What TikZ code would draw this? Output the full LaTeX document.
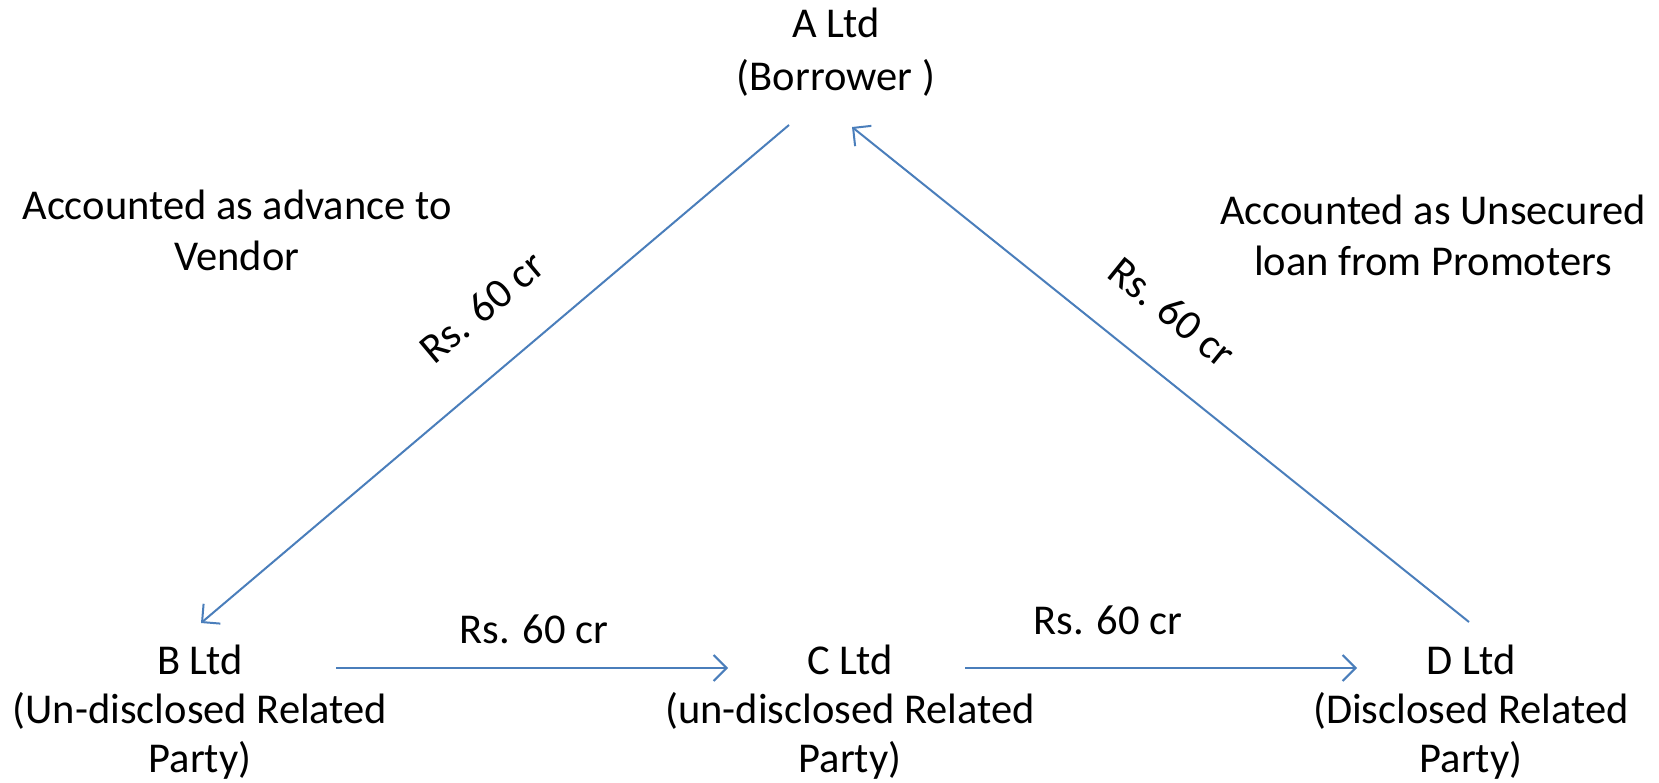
\documentclass[tikz,border=0pt]{standalone}
\usepackage{fontspec}
\setmainfont{Carlito}
\usepackage{tikz}
\usetikzlibrary{arrows.meta,positioning,calc}
\definecolor{lineblue}{HTML}{4A7EBB}

\begin{document}
\begin{tikzpicture}[
  x=1pt,y=-1pt,
  party/.style={align=center,inner sep=0pt,anchor=base,font=\fontsize{42.5}{49}\selectfont},
  note/.style={align=center,inner sep=0pt,anchor=base,font=\fontsize{42.5}{51}\selectfont},
  amount/.style={inner sep=0pt,font=\fontsize{42.5}{49}\selectfont},
  arr/.style={-{Straight Barb[length=13pt,width=26pt]},line width=2pt,draw=lineblue}
]
\useasboundingbox (0,0) rectangle (1659,783);

\node[party,font=\fontsize{42.5}{53}\selectfont] (a) at (836,91) {A Ltd\\(Borrower )};
\node[party] (b) at (200,772) {B Ltd\\(Un-disclosed Related\\Party)};
\node[party] (c) at (850,772) {C Ltd\\(un-disclosed Related\\Party)};
\node[party] (d) at (1471,772) {D Ltd\\(Disclosed Related\\Party)};

\node[note] (advance) at (237,271) {Accounted as advance to\\Vendor};
\node[note] (unsecured) at (1433,276) {Accounted as Unsecured\\loan from Promoters};

\draw[arr] ([shift={(-47,34)}]a.base) -- ([shift={(1,-149)}]b.base);
\draw[arr] ([shift={(-2,-150)}]d.base) -- ([shift={(16,36)}]a.base);
\draw[arr] ([shift={(136,-104)}]b.base) -- ([shift={(-122,-104)}]c.base);
\draw[arr] ([shift={(115,-104)}]c.base) -- ([shift={(-114,-104)}]d.base);

\node[amount,rotate=40] (ab) at (482,307) {Rs. 60 cr};
\node[amount,rotate=-39] (da) at (1172,312) {Rs. 60 cr};
\node[amount,anchor=base] (bc) at (534,643) {Rs. 60 cr};
\node[amount,anchor=base] (cd) at (1108,634) {Rs. 60 cr};
\end{tikzpicture}
\end{document}
